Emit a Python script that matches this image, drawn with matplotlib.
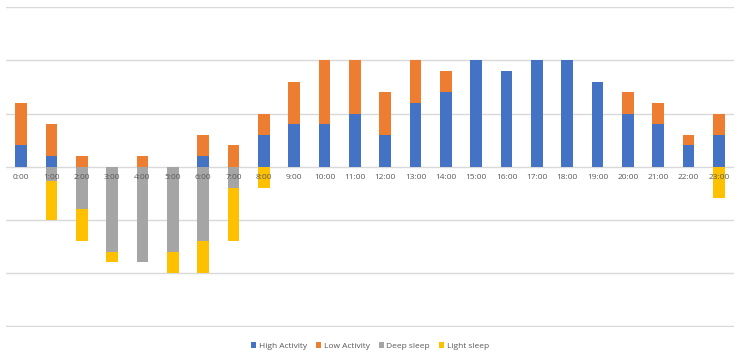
import matplotlib.pyplot as plt
import numpy as np

hours = [f"{h}:00" for h in range(24)]

# minutes per hour
high_activity = [12, 6, 0, 0, 0, 0, 6, 0, 18, 24, 24, 30,
                 18, 36, 42, 60, 54, 60, 60, 48, 30, 24, 12, 18]
low_activity = [24, 18, 6, 0, 6, 0, 12, 12, 12, 24, 36, 30,
                24, 24, 12, 0, 0, 0, 0, 0, 12, 12, 6, 12]
deep_sleep = [0, 8, 24, 48, 54, 48, 42, 12, 0, 0, 0, 0,
              0, 0, 0, 0, 0, 0, 0, 0, 0, 0, 0, 0]
light_sleep = [0, 22, 18, 6, 0, 12, 18, 30, 12, 0, 0, 0,
               0, 0, 0, 0, 0, 0, 0, 0, 0, 0, 0, 18]

colors = {
    "High Activity": "#4472C4",
    "Low Activity": "#ED7D31",
    "Deep sleep": "#A5A5A5",
    "Light sleep": "#FFC000",
}

plt.rcParams["font.family"] = ["Open Sans", "DejaVu Sans"]

fig = plt.figure(figsize=(7.4, 3.57), dpi=100)
ax = fig.add_axes([6 / 740, 30.3 / 357, 728 / 740, 320.2 / 357])

x = np.arange(len(hours))
w = 0.38
high = np.array(high_activity)
low = np.array(low_activity)
deep = -np.array(deep_sleep)
light = -np.array(light_sleep)

ax.bar(x, high, w, color=colors["High Activity"], label="High Activity", zorder=2)
ax.bar(x, low, w, bottom=high, color=colors["Low Activity"], label="Low Activity", zorder=2)
ax.bar(x, deep, w, color=colors["Deep sleep"], label="Deep sleep", zorder=2)
ax.bar(x, light, w, bottom=deep, color=colors["Light sleep"], label="Light sleep", zorder=2)

for y in range(-90, 91, 30):
    ax.axhline(y, color="#D9D9D9", lw=1.0, zorder=0)

for xi, lab in zip(x, hours):
    ax.text(xi, -4, lab, ha="center", va="top", fontsize=6, color="#595959", zorder=5)

ax.set_xlim(-0.5, 23.5)
ax.set_ylim(-90.5, 90.5)
ax.set_xticks([])
ax.set_yticks([])
for s in ax.spines.values():
    s.set_visible(False)

fig.legend(loc="center", bbox_to_anchor=(0.5, 1 - 346 / 357), ncol=4, frameon=False,
           fontsize=6, handlelength=0.6, handleheight=0.6, handletextpad=0.3,
           columnspacing=1.1, labelcolor="#595959")

fig.savefig("out.png", dpi=100)
